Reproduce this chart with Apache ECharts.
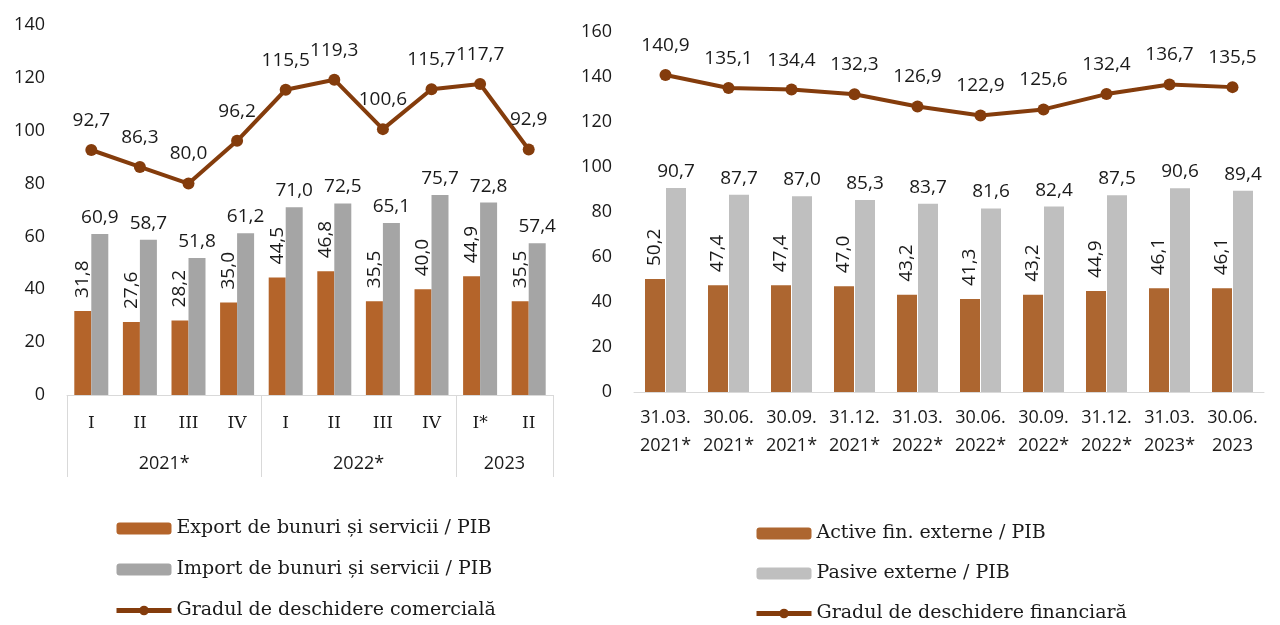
<!DOCTYPE html>
<html>
<head>
<meta charset="utf-8">
<script src="https://cdn.jsdelivr.net/npm/echarts@6/dist/echarts.min.js"></script>
<style>
  html, body { margin: 0; padding: 0; background: #fff; }
  #chart { width: 1280px; height: 625px; }
</style>
</head>
<body>
<div id="chart"></div>
<script>
// left panel: trade openness
var quarters = ["I", "II", "III", "IV", "I", "II", "III", "IV", "I*", "II"];
var years = [
  { name: "2021*", span: 4 },
  { name: "2022*", span: 4 },
  { name: "2023", span: 2 }
];
var exportGdp = [31.8, 27.6, 28.2, 35.0, 44.5, 46.8, 35.5, 40.0, 44.9, 35.5];
var importGdp = [60.9, 58.7, 51.8, 61.2, 71.0, 72.5, 65.1, 75.7, 72.8, 57.4];
var tradeOpen = [92.7, 86.3, 80.0, 96.2, 115.5, 119.3, 100.6, 115.7, 117.7, 92.9];

// right panel: financial openness
var dates = ["31.03.\n2021*", "30.06.\n2021*", "30.09.\n2021*", "31.12.\n2021*", "31.03.\n2022*",
  "30.06.\n2022*", "30.09.\n2022*", "31.12.\n2022*", "31.03.\n2023*", "30.06.\n2023"];
var assetsGdp = [50.2, 47.4, 47.4, 47.0, 43.2, 41.3, 43.2, 44.9, 46.1, 46.1];
var liabGdp = [90.7, 87.7, 87.0, 85.3, 83.7, 81.6, 82.4, 87.5, 90.6, 89.4];
var finOpen = [140.9, 135.1, 134.4, 132.3, 126.9, 122.9, 125.6, 132.4, 136.7, 135.5];

var names = {
  exp: "Export de bunuri și servicii / PIB",
  imp: "Import de bunuri și servicii / PIB",
  trd: "Gradul de deschidere comercială",
  act: "Active fin. externe / PIB",
  pas: "Pasive externe / PIB",
  fin: "Gradul de deschidere financiară"
};

var numFont = "'Open Sans', 'Noto Sans', sans-serif";
var serifFont = "'DejaVu Serif', 'Liberation Serif', serif";
var txt = "#1a1a1a";
var fmt = function (p) { return p.value.toFixed(1).replace(".", ","); };

// group boundaries and centres for the year row
var bounds = [0], centres = [];
years.forEach(function (y) {
  var start = bounds[bounds.length - 1];
  centres.push(start + y.span / 2);
  bounds.push(start + y.span);
});

var barLabel = function (rot) {
  return rot ? {
    show: true, position: "top", rotate: 90, align: "left", verticalAlign: "middle",
    distance: 13, formatter: fmt, color: txt, fontFamily: numFont, fontSize: 19
  } : {
    show: true, position: "top", distance: 7, formatter: fmt,
    color: txt, fontFamily: numFont, fontSize: 19
  };
};
var lineLabel = {
  show: true, position: "top", distance: 14, formatter: fmt,
  color: txt, fontFamily: numFont, fontSize: 19
};
var yAxisBase = function (max) {
  return {
    type: "value", min: 0, max: max, interval: 20,
    axisLine: { show: false }, axisTick: { show: false }, splitLine: { show: false },
    axisLabel: { color: txt, fontFamily: numFont, fontSize: 18, margin: 22 }
  };
};
var legendBase = {
  orient: "vertical", itemWidth: 55, itemHeight: 12, padding: 0,
  lineStyle: { width: 5 },
  textStyle: { color: txt, fontFamily: serifFont, fontSize: 19, lineHeight: 21 }
};

var chart = echarts.init(document.getElementById("chart"));
chart.setOption({
  animation: false,
  backgroundColor: "#fff",
  grid: [
    { left: 67, right: 727, top: 25, bottom: 230, outerBoundsMode: "none" },
    { left: 634, right: 16, top: 32, bottom: 233, outerBoundsMode: "none" }
  ],
  legend: [
    Object.assign({ left: 114, top: 518, itemGap: 20, data: [names.exp, names.imp, names.trd] }, legendBase),
    Object.assign({ left: 754, top: 523, itemGap: 19, data: [names.act, names.pas, names.fin] }, legendBase)
  ],
  xAxis: [
    {
      type: "category", gridIndex: 0, data: quarters,
      axisLine: { lineStyle: { color: "#d9d9d9", width: 1 } },
      axisTick: { show: false },
      axisLabel: { color: txt, fontFamily: serifFont, fontSize: 17, margin: 20 }
    },
    {
      type: "value", gridIndex: 0, min: 0, max: quarters.length, position: "bottom",
      axisLine: { show: false }, splitLine: { show: false },
      axisTick: { show: true, customValues: bounds, length: 82, lineStyle: { color: "#d9d9d9" } },
      axisLabel: {
        customValues: centres, margin: 60, color: txt, fontFamily: numFont, fontSize: 18,
        formatter: function (v) { return years[centres.indexOf(v)].name; }
      }
    },
    {
      type: "category", gridIndex: 1, data: dates,
      axisLine: { lineStyle: { color: "#d9d9d9", width: 1 } },
      axisTick: { show: false },
      axisLabel: { color: txt, fontFamily: numFont, fontSize: 18, lineHeight: 28, margin: 12, interval: 0 }
    }
  ],
  yAxis: [
    Object.assign({ gridIndex: 0 }, yAxisBase(140)),
    Object.assign({ gridIndex: 1 }, yAxisBase(160))
  ],
  series: [
    {
      name: names.exp, type: "bar", xAxisIndex: 0, yAxisIndex: 0, data: exportGdp,
      barWidth: 17, barGap: "0%", itemStyle: { color: "#b4642a" }, label: barLabel(true)
    },
    {
      name: names.imp, type: "bar", xAxisIndex: 0, yAxisIndex: 0, data: importGdp,
      barWidth: 17, barGap: "0%", itemStyle: { color: "#a5a5a5" }, label: barLabel(false)
    },
    {
      name: names.trd, type: "line", xAxisIndex: 0, yAxisIndex: 0, data: tradeOpen,
      symbol: "circle", symbolSize: 12, z: 5,
      lineStyle: { color: "#843c0c", width: 4 }, itemStyle: { color: "#843c0c" },
      label: lineLabel
    },
    {
      name: names.act, type: "bar", xAxisIndex: 2, yAxisIndex: 1, data: assetsGdp,
      barWidth: 20, barGap: "5%", itemStyle: { color: "#ad6630" }, label: barLabel(true)
    },
    {
      name: names.pas, type: "bar", xAxisIndex: 2, yAxisIndex: 1, data: liabGdp,
      barWidth: 20, barGap: "5%", itemStyle: { color: "#bfbfbf" }, label: barLabel(false)
    },
    {
      name: names.fin, type: "line", xAxisIndex: 2, yAxisIndex: 1, data: finOpen,
      symbol: "circle", symbolSize: 12, z: 5,
      lineStyle: { color: "#843c0c", width: 4 }, itemStyle: { color: "#843c0c" },
      label: lineLabel
    }
  ]
});
</script>
</body>
</html>
